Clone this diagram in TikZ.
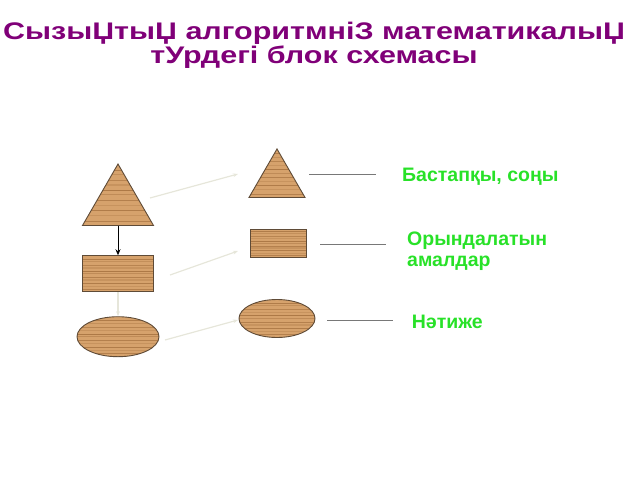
\documentclass[tikz,border=0pt]{standalone}
\usepackage{fontspec}
\setmainfont{Liberation Sans}
\usetikzlibrary{shapes.geometric,positioning,calc,arrows.meta}
\definecolor{titlepurple}{RGB}{128,0,120}
\definecolor{labelgreen}{RGB}{40,225,40}
\definecolor{woodtan}{RGB}{214,162,108}
\definecolor{woodgrain}{RGB}{140,88,40}
\definecolor{woodedge}{RGB}{95,75,55}
\definecolor{faintgray}{RGB}{230,230,218}
\definecolor{leadgray}{RGB}{120,120,120}

\tikzset{
  wood/.style={draw=woodedge, line width=0.9pt, fill=woodtan, inner sep=0pt,
    path picture={
      \foreach \f/\o/\w in {0.07/0.45/1.0,0.16/0.2/0.6,0.24/0.5/0.8,0.33/0.2/1.4,
                            0.41/0.45/0.6,0.5/0.3/1.1,0.57/0.55/0.7,0.66/0.2/1.3,
                            0.74/0.4/0.6,0.83/0.25/1.0,0.9/0.5/0.7}
        \draw[woodgrain, opacity=\o, line width=\w pt]
          ($(path picture bounding box.south west)!\f!(path picture bounding box.north west)$)
          -- ++(200pt,0pt);
    }},
  tri/.style={wood, regular polygon, regular polygon sides=3},
  box/.style={wood, rectangle},
  oval/.style={wood, ellipse},
  faint/.style={faintgray, line width=1.2pt, -{Stealth[length=5pt]}},
  leader/.style={leadgray, line width=0.9pt},
  heading/.style={text=titlepurple, font=\bfseries\fontsize{24}{21}\selectfont,
    align=center, xscale=1.27, inner sep=0pt},
  legend/.style={text=labelgreen, font=\bfseries\fontsize{19.5}{21}\selectfont,
    anchor=base west, inner sep=0pt}
}

\begin{document}
\begin{tikzpicture}[x=1pt,y=-1pt]
  \useasboundingbox (0,0) rectangle (640,480);

  \node[heading, anchor=base] (title) at (314,63)
    {СызыЏтыЏ алгоритмнiЗ математикалыЏ\\тУрдегi блок схемасы};

  % left column
  \node[tri, minimum size=82pt] (lt) at (118,205) {};
  \node[box, minimum width=70.6pt, minimum height=36pt] (lb) at (118,273.7) {};
  \node[oval, minimum width=82pt, minimum height=40pt] (lo) at (118,336.7) {};

  % right column
  \node[tri, minimum size=64.7pt] (rt) at (277,181.3) {};
  \node[box, minimum width=56pt, minimum height=28.7pt] (rb) at (278,243.3) {};
  \node[oval, minimum width=76pt, minimum height=38pt] (ro) at (277,318.5) {};

  % legends
  \node[legend] (start) at (402,181) {Бастапқы, соңы};
  \node[legend, align=left, anchor=north west] (act) at (407,232) {Орындалатын\\амалдар};
  \node[legend] (res) at (411.7,328) {Нәтиже};

  \coordinate (a1) at (150,198);   \coordinate (b1) at (238,174);
  \coordinate (a2) at (170,275);   \coordinate (b2) at (238,251);
  \coordinate (a3) at (165,340);   \coordinate (b3) at (238,320);
  \coordinate (l1a) at (309,174);  \coordinate (l1b) at (376,174);
  \coordinate (l2a) at (320,244);  \coordinate (l2b) at (386,244);
  \coordinate (l3a) at (327,320.7);\coordinate (l3b) at (393,320.7);

  \draw[-{Stealth[length=6pt,width=5pt]}, line width=0.8pt] (lt.south) -- (lb.north);
  \draw[faint] (lb.south) -- (lo.north);
  \draw[faint] (a1) -- (b1);
  \draw[faint] (a2) -- (b2);
  \draw[faint] (a3) -- (b3);

  \draw[leader] (l1a) -- (l1b);
  \draw[leader] (l2a) -- (l2b);
  \draw[leader] (l3a) -- (l3b);
\end{tikzpicture}
\end{document}
